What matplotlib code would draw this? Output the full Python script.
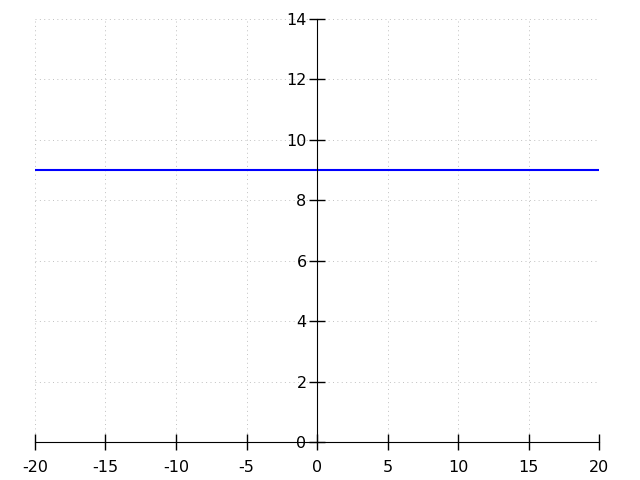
import numpy as np
import matplotlib.pyplot as plt

plt.rcParams['axes.unicode_minus'] = False

# Datos de la recta horizontal
x_values = [-20, 20]
y_values = [9, 9]
x_ticks = [-20, -15, -10, -5, 0, 5, 10, 15, 20]
y_ticks = [0, 2, 4, 6, 8, 10, 12, 14]

fig = plt.figure(figsize=(6.4, 4.8), dpi=100)
ax = fig.add_axes([35 / 640, 1 - 442 / 480, 564 / 640, 423 / 480])

ax.plot(x_values, y_values, color='#0000ff', linewidth=1.5)

ax.set_xlim(-20, 20)
ax.set_ylim(0, 14)
ax.set_xticks(x_ticks)
ax.set_yticks(y_ticks)

# Ejes centrados en el origen
ax.spines['left'].set_position(('data', 0))
ax.spines['bottom'].set_position(('data', 0))
ax.spines['right'].set_visible(False)
ax.spines['top'].set_visible(False)

ax.tick_params(direction='inout', length=11, width=1, labelsize=11.5)
ax.tick_params(axis='x', pad=7.5)
ax.tick_params(axis='y', pad=2)
ax.grid(True, linestyle=(0, (1, 3.5)), color='#c0c0c0', linewidth=0.7)
ax.set_axisbelow(True)

fig.savefig('out.png', dpi=100)
